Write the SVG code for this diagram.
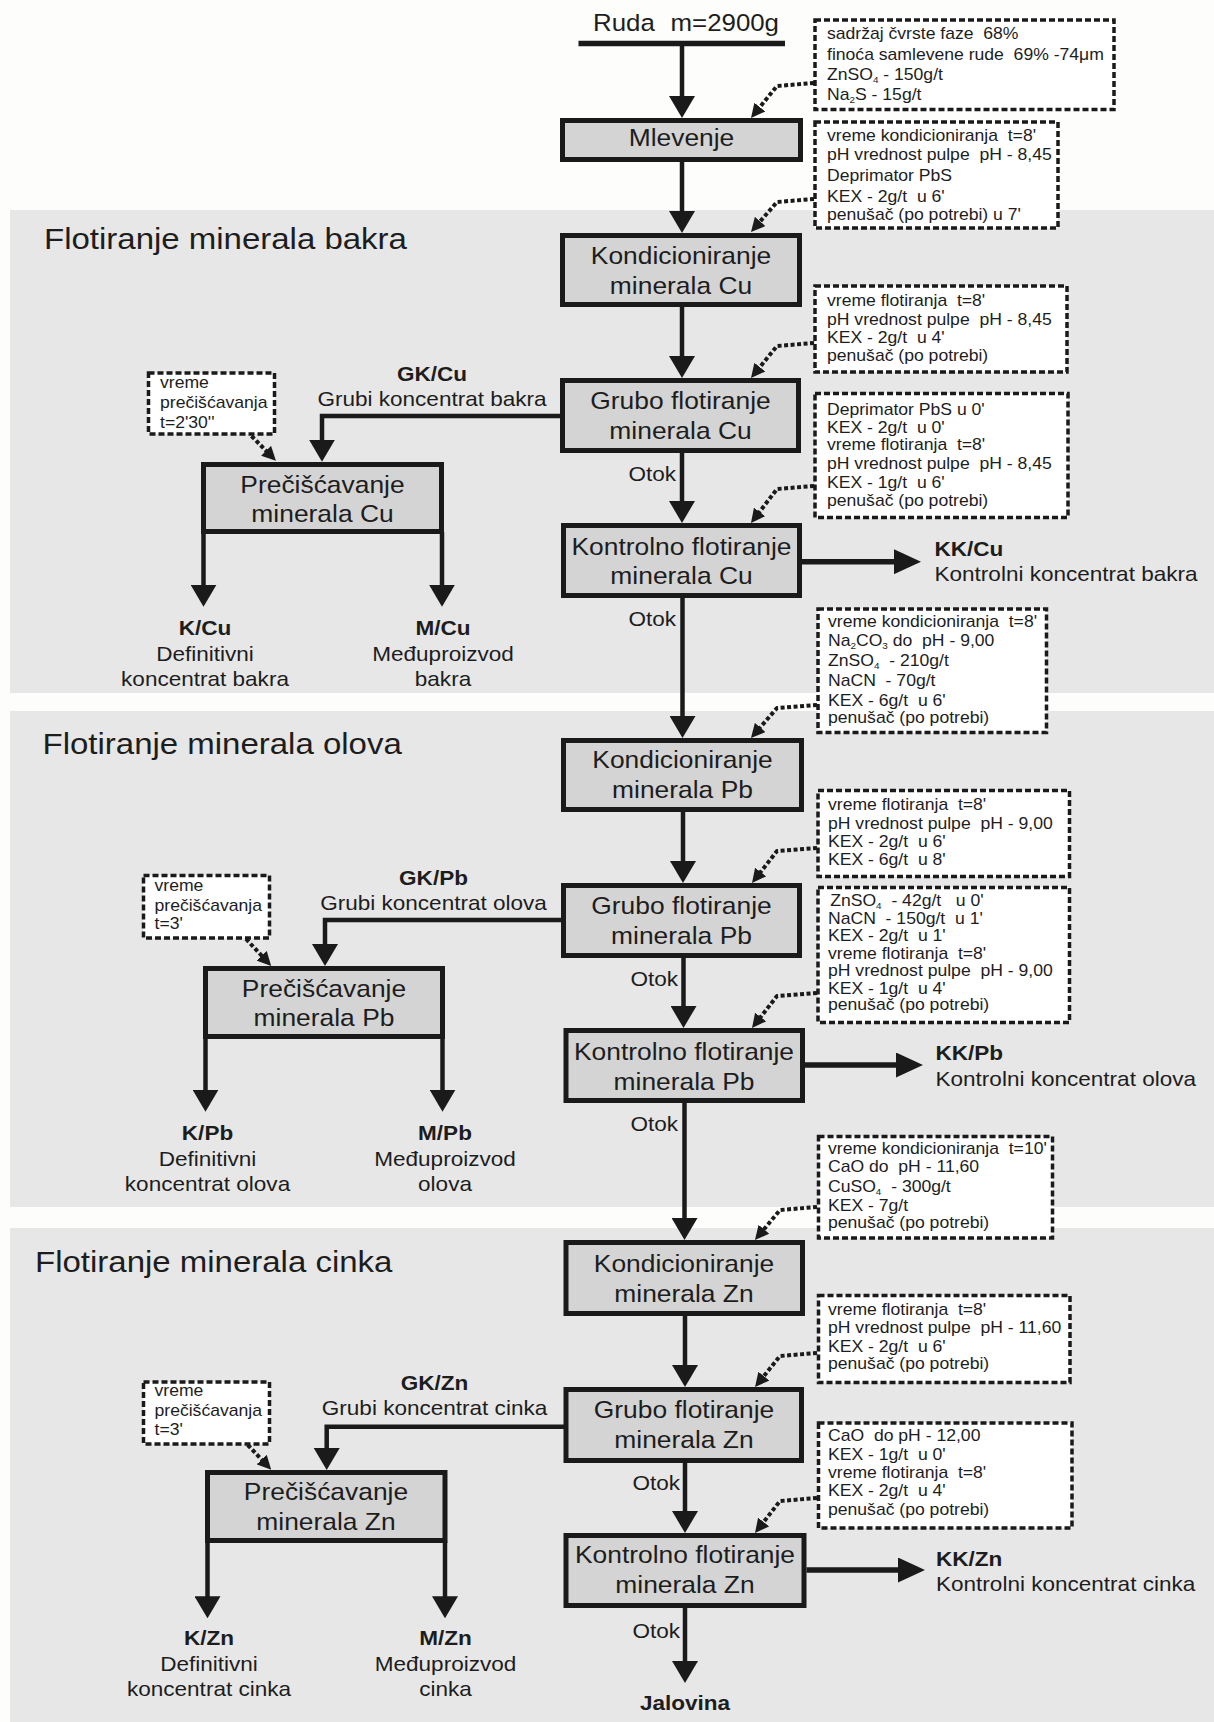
<svg xmlns="http://www.w3.org/2000/svg" width="1214" height="1722" viewBox="0 0 1214 1722">
<style>
.bg{fill:#fdfdfc}
.band{fill:#e7e7e7}
.box{fill:#d4d4d4;stroke:#1a1a1a;stroke-width:5}
.db{fill:#ffffff;stroke:#1a1a1a;stroke-width:3.5;stroke-dasharray:6 3}
.ln{fill:none;stroke:#1a1a1a;stroke-width:4.5;stroke-linejoin:miter}
.kk{fill:none;stroke:#1a1a1a;stroke-width:5.5}
.dot{fill:none;stroke:#1a1a1a;stroke-width:4;stroke-dasharray:4 2.5;stroke-linejoin:round}
text{font-family:"Liberation Sans",Arial,Helvetica,sans-serif;fill:#1d1d1d;white-space:pre}
.h{font-size:30px}
.bt{font-size:24px;text-anchor:middle}
.lb{font-size:20.5px;text-anchor:middle}
.ls{font-size:20.5px;text-anchor:start}
.le{font-size:20.5px;text-anchor:end}
.b{font-weight:bold}
.dt{font-size:16px}
.sub{font-size:9px}
</style>
<defs>
<marker id="ah" markerUnits="userSpaceOnUse" viewBox="0 0 22 26" markerWidth="22" markerHeight="26" refX="1" refY="13" orient="auto"><path d="M0,0 L22,13 L0,26 z" fill="#1a1a1a"/></marker>
<marker id="ak" markerUnits="userSpaceOnUse" viewBox="0 0 27 25" markerWidth="27" markerHeight="25" refX="1" refY="12.5" orient="auto"><path d="M0,0 L27,12.5 L0,25 z" fill="#1a1a1a"/></marker>
<marker id="as" markerUnits="userSpaceOnUse" viewBox="0 0 14 14" markerWidth="14" markerHeight="14" refX="1" refY="7" orient="auto"><path d="M0,0 L14,7 L0,14 z" fill="#1a1a1a"/></marker>
</defs>
<rect class="bg" x="0" y="0" width="1214" height="1722"/>
<g id="bands">
<rect class="band" x="10" y="210" width="1204" height="483"/>
<rect class="band" x="10" y="711" width="1204" height="496"/>
<rect class="band" x="10" y="1228" width="1204" height="494"/>
</g>
<g id="section-titles" class="h">
<g transform="translate(44 0) scale(1.1 1)"><text y="249">Flotiranje minerala bakra</text></g>
<g transform="translate(42.5 0) scale(1.1 1)"><text y="754">Flotiranje minerala olova</text></g>
<g transform="translate(35 0) scale(1.1 1)"><text y="1272">Flotiranje minerala cinka</text></g>
</g>
<g id="connectors">
<path class="ln" d="M578.5 43.5 H785" style="stroke-width:5.5"/>
<path class="ln" d="M682 46 V97" marker-end="url(#ah)"/>
<path class="ln" d="M682 162 V212" marker-end="url(#ah)"/>
<path class="ln" d="M682 307 V357" marker-end="url(#ah)"/>
<path class="ln" d="M682 453 V502" marker-end="url(#ah)"/>
<path class="ln" d="M682.5 598 V717" marker-end="url(#ah)"/>
<path class="ln" d="M683 812 V862" marker-end="url(#ah)"/>
<path class="ln" d="M683.5 958 V1007" marker-end="url(#ah)"/>
<path class="ln" d="M684.5 1103 V1219" marker-end="url(#ah)"/>
<path class="ln" d="M685 1316 V1366" marker-end="url(#ah)"/>
<path class="ln" d="M685 1463 V1512" marker-end="url(#ah)"/>
<path class="ln" d="M685 1608 V1662" marker-end="url(#ah)"/>
<path class="ln" d="M562 416 H322 V440.7" marker-end="url(#ah)"/>
<path class="ln" d="M563 920 H325 V945" marker-end="url(#ah)"/>
<path class="ln" d="M565 1426.7 H326.7 V1449" marker-end="url(#ah)"/>
<path class="ln" d="M203.5 532 V585.7" marker-end="url(#ah)"/>
<path class="ln" d="M442 532 V585.7" marker-end="url(#ah)"/>
<path class="ln" d="M205.5 1037 V1090.7" marker-end="url(#ah)"/>
<path class="ln" d="M442.5 1037 V1090.7" marker-end="url(#ah)"/>
<path class="ln" d="M207.5 1541 V1597.3" marker-end="url(#ah)"/>
<path class="ln" d="M445 1541 V1597.3" marker-end="url(#ah)"/>
<path class="kk" d="M802 561.7 H895" marker-end="url(#ak)"/>
<path class="kk" d="M805 1065 H897" marker-end="url(#ak)"/>
<path class="kk" d="M806.5 1570 H899" marker-end="url(#ak)"/>
<path class="dot" d="M814 83 L777 86 L759.2 107.9" marker-end="url(#as)"/>
<path class="dot" d="M814 199 L777 202 L759.5 222.2" marker-end="url(#as)"/>
<path class="dot" d="M814 343 L777 346 L759.2 367.9" marker-end="url(#as)"/>
<path class="dot" d="M814 486 L777 489 L758.9 512.7" marker-end="url(#as)"/>
<path class="dot" d="M817 705 L777 708 L759.5 728.2" marker-end="url(#as)"/>
<path class="dot" d="M817 848 L777 851 L760 872.8" marker-end="url(#as)"/>
<path class="dot" d="M817 993 L777 996 L760 1017.8" marker-end="url(#as)"/>
<path class="dot" d="M817 1207 L780 1210 L763.3 1230" marker-end="url(#as)"/>
<path class="dot" d="M817 1353 L780 1356 L763.2 1376.9" marker-end="url(#as)"/>
<path class="dot" d="M817 1498 L780 1501 L763 1522.8" marker-end="url(#as)"/>
<path class="dot" d="M251.5 436 L266.8 451.5" marker-end="url(#as)"/>
<path class="dot" d="M246 939 L262.3 956.4" marker-end="url(#as)"/>
<path class="dot" d="M247.8 1445 L262.3 1460.3" marker-end="url(#as)"/>
</g>
<g id="n-ruda">
<g transform="translate(593 0) scale(1.1 1)"><text style="font-size:23.5px" y="31">Ruda<tspan x="70.5">m=2900g</tspan></text></g>
</g>
<g id="n-mlevenje">
<rect class="box" x="562.5" y="120.5" width="238" height="39"/>
<g class="bt" transform="translate(681.5 0) scale(1.1 1)"><text y="146">Mlevenje</text></g>
</g>
<g id="n-kond-cu">
<rect class="box" x="562.5" y="235.5" width="237" height="69"/>
<g class="bt" transform="translate(681 0) scale(1.1 1)"><text y="264">Kondicioniranje</text><text y="294">minerala Cu</text></g>
</g>
<g id="n-grubo-cu">
<rect class="box" x="562.5" y="380.5" width="236" height="70"/>
<g class="bt" transform="translate(680.5 0) scale(1.1 1)"><text y="409.5">Grubo flotiranje</text><text y="439">minerala Cu</text></g>
</g>
<g id="n-kont-cu">
<rect class="box" x="563.5" y="525.5" width="236" height="70"/>
<g class="bt" transform="translate(681.5 0) scale(1.1 1)"><text y="555">Kontrolno flotiranje</text><text y="584">minerala Cu</text></g>
</g>
<g id="n-prec-cu">
<rect class="box" x="203.5" y="464.5" width="238" height="67"/>
<g class="bt" transform="translate(322.5 0) scale(1.1 1)"><text y="493.5">Prečišćavanje</text><text y="522">minerala Cu</text></g>
</g>
<g id="n-kond-pb">
<rect class="box" x="563.5" y="740.5" width="238" height="69"/>
<g class="bt" transform="translate(682.5 0) scale(1.1 1)"><text y="768">Kondicioniranje</text><text y="798">minerala Pb</text></g>
</g>
<g id="n-grubo-pb">
<rect class="box" x="563.5" y="885.5" width="236" height="70"/>
<g class="bt" transform="translate(681.5 0) scale(1.1 1)"><text y="914">Grubo flotiranje</text><text y="944">minerala Pb</text></g>
</g>
<g id="n-kont-pb">
<rect class="box" x="566" y="1030.5" width="236.5" height="70"/>
<g class="bt" transform="translate(684 0) scale(1.1 1)"><text y="1060">Kontrolno flotiranje</text><text y="1090">minerala Pb</text></g>
</g>
<g id="n-prec-pb">
<rect class="box" x="205.5" y="968.5" width="237" height="68"/>
<g class="bt" transform="translate(324 0) scale(1.1 1)"><text y="997">Prečišćavanje</text><text y="1026">minerala Pb</text></g>
</g>
<g id="n-kond-zn">
<rect class="box" x="566" y="1242.5" width="236.5" height="71"/>
<g class="bt" transform="translate(684 0) scale(1.1 1)"><text y="1272">Kondicioniranje</text><text y="1302">minerala Zn</text></g>
</g>
<g id="n-grubo-zn">
<rect class="box" x="566" y="1389.5" width="235.5" height="71"/>
<g class="bt" transform="translate(684 0) scale(1.1 1)"><text y="1418.5">Grubo flotiranje</text><text y="1448.5">minerala Zn</text></g>
</g>
<g id="n-kont-zn">
<rect class="box" x="566" y="1535.5" width="238" height="70"/>
<g class="bt" transform="translate(685 0) scale(1.1 1)"><text y="1563.5">Kontrolno flotiranje</text><text y="1593.5">minerala Zn</text></g>
</g>
<g id="n-prec-zn">
<rect class="box" x="207.5" y="1472.5" width="237.5" height="68"/>
<g class="bt" transform="translate(326 0) scale(1.1 1)"><text y="1500">Prečišćavanje</text><text y="1530">minerala Zn</text></g>
</g>
<g id="note-1">
<rect class="db" x="815" y="20" width="299" height="89.5"/>
<g class="dt" transform="translate(827 0) scale(1.1 1)">
<text y="39">sadržaj čvrste faze  68%</text>
<text y="60">finoća samlevene rude  69% -74μm</text>
<text y="80">ZnSO<tspan class="sub" dy="3">4</tspan><tspan dy="-3"> - 150g/t</tspan></text>
<text y="100">Na<tspan class="sub" dy="3">2</tspan><tspan dy="-3">S - 15g/t</tspan></text>
</g>
</g>
<g id="note-2">
<rect class="db" x="815" y="122" width="243" height="106"/>
<g class="dt" transform="translate(827 0) scale(1.1 1)">
<text y="141.5">vreme kondicioniranja  t=8'</text>
<text y="160">pH vrednost pulpe  pH - 8,45</text>
<text y="181.5">Deprimator PbS</text>
<text y="202.5">KEX - 2g/t  u 6'</text>
<text y="220">penušač (po potrebi) u 7'</text>
</g>
</g>
<g id="note-3">
<rect class="db" x="815" y="286" width="252" height="86"/>
<g class="dt" transform="translate(827 0) scale(1.1 1)">
<text y="306">vreme flotiranja  t=8'</text>
<text y="325">pH vrednost pulpe  pH - 8,45</text>
<text y="343.5">KEX - 2g/t  u 4'</text>
<text y="361.5">penušač (po potrebi)</text>
</g>
</g>
<g id="note-4">
<rect class="db" x="815" y="393.5" width="253" height="124"/>
<g class="dt" transform="translate(827 0) scale(1.1 1)">
<text y="415">Deprimator PbS u 0'</text>
<text y="433.5">KEX - 2g/t  u 0'</text>
<text y="450.5">vreme flotiranja  t=8'</text>
<text y="469.5">pH vrednost pulpe  pH - 8,45</text>
<text y="488.5">KEX - 1g/t  u 6'</text>
<text y="506">penušač (po potrebi)</text>
</g>
</g>
<g id="note-5">
<rect class="db" x="818" y="609" width="228.5" height="123.5"/>
<g class="dt" transform="translate(828 0) scale(1.1 1)">
<text y="627.5">vreme kondicioniranja  t=8'</text>
<text y="646">Na<tspan class="sub" dy="3">2</tspan><tspan dy="-3">CO</tspan><tspan class="sub" dy="3">3</tspan><tspan dy="-3"> do  pH - 9,00</tspan></text>
<text y="666.5">ZnSO<tspan class="sub" dy="3">4</tspan><tspan dy="-3">  - 210g/t</tspan></text>
<text y="686.5">NaCN  - 70g/t</text>
<text y="706">KEX - 6g/t  u 6'</text>
<text y="723.5">penušač (po potrebi)</text>
</g>
</g>
<g id="note-6">
<rect class="db" x="818" y="790.5" width="251.5" height="86"/>
<g class="dt" transform="translate(828 0) scale(1.1 1)">
<text y="810.5">vreme flotiranja  t=8'</text>
<text y="829.5">pH vrednost pulpe  pH - 9,00</text>
<text y="847.5">KEX - 2g/t  u 6'</text>
<text y="865">KEX - 6g/t  u 8'</text>
</g>
</g>
<g id="note-7">
<rect class="db" x="818" y="887.5" width="251.5" height="135"/>
<g class="dt" transform="translate(828 0) scale(1.1 1)">
<text x="2" y="906">ZnSO<tspan class="sub" dy="3">4</tspan><tspan dy="-3">  - 42g/t   u 0'</tspan></text>
<text y="924">NaCN  - 150g/t  u 1'</text>
<text y="941.5">KEX - 2g/t  u 1'</text>
<text y="959">vreme flotiranja  t=8'</text>
<text y="976.5">pH vrednost pulpe  pH - 9,00</text>
<text y="994">KEX - 1g/t  u 4'</text>
<text y="1010">penušač (po potrebi)</text>
</g>
</g>
<g id="note-8">
<rect class="db" x="818.5" y="1136.5" width="234" height="101.5"/>
<g class="dt" transform="translate(828 0) scale(1.1 1)">
<text y="1154">vreme kondicioniranja  t=10'</text>
<text y="1172.5">CaO do  pH - 11,60</text>
<text y="1192.5">CuSO<tspan class="sub" dy="3">4</tspan><tspan dy="-3">  - 300g/t</tspan></text>
<text y="1211.5">KEX - 7g/t</text>
<text y="1228.5">penušač (po potrebi)</text>
</g>
</g>
<g id="note-9">
<rect class="db" x="818.5" y="1295.5" width="251.5" height="87"/>
<g class="dt" transform="translate(828 0) scale(1.1 1)">
<text y="1315">vreme flotiranja  t=8'</text>
<text y="1333.5">pH vrednost pulpe  pH - 11,60</text>
<text y="1352.5">KEX - 2g/t  u 6'</text>
<text y="1369.5">penušač (po potrebi)</text>
</g>
</g>
<g id="note-10">
<rect class="db" x="818.5" y="1423" width="253.5" height="105"/>
<g class="dt" transform="translate(828 0) scale(1.1 1)">
<text y="1441.5">CaO  do pH - 12,00</text>
<text y="1460.5">KEX - 1g/t  u 0'</text>
<text y="1478.5">vreme flotiranja  t=8'</text>
<text y="1496.5">KEX - 2g/t  u 4'</text>
<text y="1515">penušač (po potrebi)</text>
</g>
</g>
<g id="note-prec-cu">
<rect class="db" x="148.5" y="373" width="126" height="61"/>
<g class="dt" transform="translate(160 0) scale(1.1 1)">
<text y="388.5">vreme</text>
<text y="408.5">prečišćavanja</text>
<text y="428">t=2'30''</text>
</g>
</g>
<g id="note-prec-pb">
<rect class="db" x="143.5" y="875.5" width="126" height="62.5"/>
<g class="dt" transform="translate(154.5 0) scale(1.1 1)">
<text y="891.5">vreme</text>
<text y="911.5">prečišćavanja</text>
<text y="929.5">t=3'</text>
</g>
</g>
<g id="note-prec-zn">
<rect class="db" x="143.5" y="1382" width="126" height="62"/>
<g class="dt" transform="translate(154.5 0) scale(1.1 1)">
<text y="1396">vreme</text>
<text y="1416">prečišćavanja</text>
<text y="1435">t=3'</text>
</g>
</g>
<g id="labels-cu">
<g class="lb" transform="translate(432 0) scale(1.1 1)"><text class="b" y="381.5">GK/Cu</text><text y="406.5">Grubi koncentrat bakra</text></g>
<g class="le" transform="translate(676 0) scale(1.1 1)"><text y="481.5">Otok</text><text y="626.5">Otok</text></g>
<g class="ls" transform="translate(934.5 0) scale(1.1 1)"><text class="b" y="556.5">KK/Cu</text><text y="581.5">Kontrolni koncentrat bakra</text></g>
<g class="lb" transform="translate(205 0) scale(1.1 1)"><text class="b" y="635">K/Cu</text><text y="661">Definitivni</text><text y="686">koncentrat bakra</text></g>
<g class="lb" transform="translate(443 0) scale(1.1 1)"><text class="b" y="635">M/Cu</text><text y="661">Međuproizvod</text><text y="686">bakra</text></g>
</g>
<g id="labels-pb">
<g class="lb" transform="translate(433.5 0) scale(1.1 1)"><text class="b" y="885">GK/Pb</text><text y="910">Grubi koncentrat olova</text></g>
<g class="le" transform="translate(678 0) scale(1.1 1)"><text y="986.5">Otok</text><text y="1131.5">Otok</text></g>
<g class="ls" transform="translate(935.5 0) scale(1.1 1)"><text class="b" y="1060">KK/Pb</text><text y="1086.5">Kontrolni koncentrat olova</text></g>
<g class="lb" transform="translate(207.5 0) scale(1.1 1)"><text class="b" y="1140">K/Pb</text><text y="1166">Definitivni</text><text y="1191">koncentrat olova</text></g>
<g class="lb" transform="translate(445 0) scale(1.1 1)"><text class="b" y="1140">M/Pb</text><text y="1166">Međuproizvod</text><text y="1191">olova</text></g>
</g>
<g id="labels-zn">
<g class="lb" transform="translate(434.5 0) scale(1.1 1)"><text class="b" y="1390">GK/Zn</text><text y="1415">Grubi koncentrat cinka</text></g>
<g class="le" transform="translate(680 0) scale(1.1 1)"><text y="1490">Otok</text><text y="1638">Otok</text></g>
<g class="ls" transform="translate(936 0) scale(1.1 1)"><text class="b" y="1566">KK/Zn</text><text y="1591.5">Kontrolni koncentrat cinka</text></g>
<g class="lb" transform="translate(209 0) scale(1.1 1)"><text class="b" y="1645">K/Zn</text><text y="1671.5">Definitivni</text><text y="1696.5">koncentrat cinka</text></g>
<g class="lb" transform="translate(445.5 0) scale(1.1 1)"><text class="b" y="1645">M/Zn</text><text y="1671.5">Međuproizvod</text><text y="1696.5">cinka</text></g>
<g class="lb" transform="translate(685 0) scale(1.1 1)"><text class="b" y="1710">Jalovina</text></g>
</g>
</svg>
